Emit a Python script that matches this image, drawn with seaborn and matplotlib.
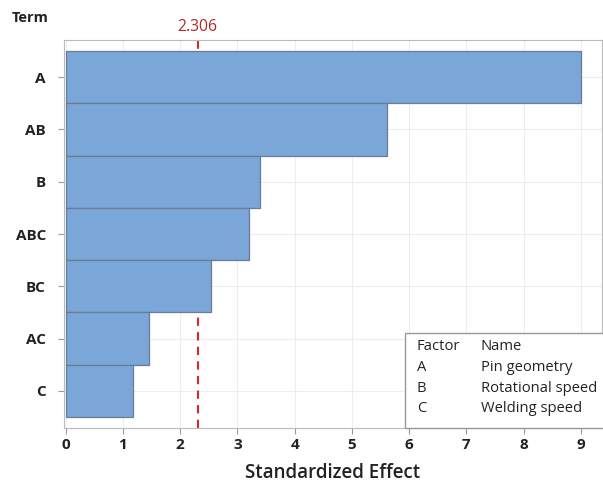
import matplotlib
matplotlib.use("Agg")
import matplotlib.pyplot as plt
import seaborn as sns
import pandas as pd
from matplotlib.patches import Rectangle

terms = ["A", "AB", "B", "ABC", "BC", "AC", "C"]
effects = [9.0, 5.62, 3.40, 3.20, 2.54, 1.46, 1.18]
ref_value = 2.306
factors = ["A", "B", "C"]
factor_names = ["Pin geometry", "Rotational speed", "Welding speed"]
xticks = list(range(0, 10))

sns.set_theme(style="white")
plt.rcParams['font.family'] = ['Open Sans', 'DejaVu Sans']

df = pd.DataFrame({"Term": terms, "Effect": effects})

fig = plt.figure(figsize=(6.03, 4.83), dpi=100)
ax = fig.add_axes([64/603, 1-428/483, (602-64)/603, (428-40)/483])

sns.barplot(data=df, x="Effect", y="Term", orient="h", width=1.0,
            color="#7BA6D8", edgecolor="#667C98", linewidth=0.9,
            saturation=1, ax=ax, zorder=3)

ax.axvline(ref_value, color='#D8282E', linestyle=(0, (4, 3)), linewidth=1.5, zorder=2)

ax.set_xlim(-0.03, 9.37)
ax.set_ylim(6.71, -0.71)
ax.set_xticks(xticks)
ax.set_xticklabels([str(t) for t in xticks], fontsize=11, fontweight='bold', color='#222222')
ax.set_yticks(range(len(terms)))
ax.set_yticklabels(terms, fontsize=11, fontweight='bold', color='#222222')
ax.grid(True, color='#EDEDED', linewidth=0.8, zorder=0)
ax.set_axisbelow(True)
for s in ax.spines.values():
    s.set_color('#BBBBBB')
    s.set_linewidth(0.8)
ax.tick_params(axis='y', length=4, color='#999999', width=0.8, pad=9, left=True)
ax.tick_params(axis='x', length=4, color='#999999', width=0.8, pad=3, bottom=True)

ax.text(ref_value, 1.012, f"{ref_value}", transform=ax.get_xaxis_transform(),
        ha='center', va='bottom', color='#B02A2A', fontsize=11.3)

ax.set_xlabel("Standardized Effect", fontsize=13.5, color='#222222', labelpad=8,
              fontweight='semibold')
ax.set_ylabel("")
fig.text(30/603, 1-18/483, "Term", ha='center', va='center', fontsize=10.5,
         fontweight='bold', color='#222222')

# Legend box
lx0, ly0, lx1, ly1 = 405, 333, 610, 428
rect = Rectangle((lx0/603, 1-ly1/483), (lx1-lx0)/603, (ly1-ly0)/483,
                 transform=fig.transFigure, facecolor='white', edgecolor='#999999',
                 linewidth=1.0, zorder=5)
fig.patches.append(rect)
rows = [("Factor", "Name")] + list(zip(factors, factor_names))
for i, (f, n) in enumerate(rows):
    y = 1 - (347 + i*20.5)/483
    fig.text(417/603, y, f, fontsize=10.6, color='#222222', va='center', zorder=6)
    fig.text(481/603, y, n, fontsize=10.6, color='#222222', va='center', zorder=6)

fig.savefig("out.png", dpi=100)
